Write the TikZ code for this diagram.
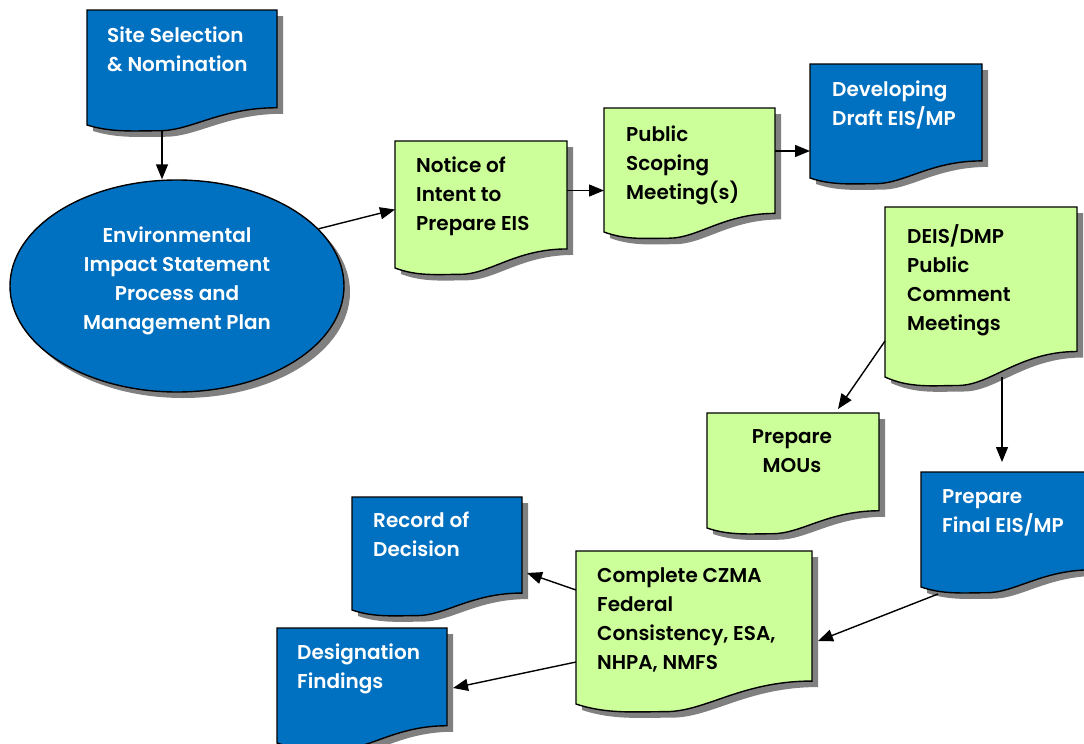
\documentclass[tikz,border=0pt]{standalone}
\usepackage{fontspec}
\setmainfont{Poppins}[BoldFont={* SemiBold}]
\usetikzlibrary{arrows.meta,calc,shapes.geometric}
\definecolor{docblue}{RGB}{0,112,192}
\definecolor{docgreen}{RGB}{204,255,153}
\definecolor{shadowgray}{RGB}{128,128,128}
% document shape: #1 x, #2 y (top), #3 width, #4 height at left edge, #5 style
\newcommand\docshape[5]{%
  \path[#5] ({#1},{#2}) -- ({#1+#3},{#2}) -- ({#1+#3},{#2+0.85*#4})
    .. controls ({#1+0.7*#3},{#2+0.85*#4}) and ({#1+0.55*#3},{#2+1.05*#4}) .. ({#1+0.38*#3},{#2+1.05*#4})
    .. controls ({#1+0.25*#3},{#2+1.05*#4}) and ({#1+0.13*#3},{#2+1.067*#4}) .. ({#1},{#2+#4}) -- cycle;}
% #1 name, #2 x, #3 y, #4 w, #5 h, #6 fill colour
\newcommand\docbox[6]{%
  \docshape{#2+6}{#3+6}{#4}{#5}{fill=shadowgray}
  \docshape{#2}{#3}{#4}{#5}{fill=#6,draw=black,line width=1.4pt}
  \node[area,minimum width=#4pt,minimum height=#5pt] (#1) at (#2,#3) {};}
\tikzset{
  area/.style={inner sep=0pt,outer sep=0pt,anchor=north west,draw=none},
  txt/.style={inner sep=0pt,anchor=north west,align=left,
    font=\fontsize{20}{29}\selectfont\bfseries,
    execute at begin node={\rule{0pt}{18pt}}},
  wtxt/.style={txt,text=white},
  btxt/.style={txt,text=black},
  arr/.style={draw=black,line width=1.4pt,-{Triangle[length=15pt,width=12pt]}}
}
\begin{document}
\begin{tikzpicture}[x=1pt,y=-1pt]
\useasboundingbox[fill=white] (0,0) rectangle (1084,744);
% boxes
\docbox{site}{87}{10}{190}{115}{docblue}
\node[ellipse,fill=shadowgray,minimum width=334pt,minimum height=212pt,inner sep=0pt] at (183,292) {};
\node[ellipse,fill=docblue,draw=black,line width=1.4pt,minimum width=334pt,minimum height=212pt,inner sep=0pt] (ell) at (177,286) {};
\docbox{notice}{395}{141}{172}{127}{docgreen}
\docbox{public}{604}{108}{171}{124}{docgreen}
\docbox{draft}{810}{64}{172}{114}{docblue}
\docbox{deis}{885}{207}{192}{170}{docgreen}
\docbox{mous}{707}{413}{172}{115}{docgreen}
\docbox{final}{921}{472}{172}{115}{docblue}
\docbox{czma}{576}{551}{236}{153}{docgreen}
\docbox{record}{352}{497}{170}{113}{docblue}
\docbox{desig}{277}{628}{170}{115}{docblue}
% texts
\node[wtxt] (site-t) at (107,27) {Site Selection\\\& Nomination};
\node[wtxt,anchor=north,align=center] (ell-t) at (177,227) {Environmental\\Impact Statement\\Process and\\Management Plan};
\node[btxt] (notice-t) at (416,157) {Notice of\\Intent to\\Prepare EIS};
\node[btxt] (public-t) at (626,126) {Public\\Scoping\\Meeting(s)};
\node[wtxt] (draft-t) at (832,81) {Developing\\Draft EIS/MP};
\node[btxt] (deis-t) at (907,224) {DEIS/DMP\\Public\\Comment\\Meetings};
\node[btxt,anchor=north,align=center] (mous-t) at (792,429) {Prepare\\MOUs};
\node[wtxt] (final-t) at (942,489) {Prepare\\Final EIS/MP};
\node[btxt] (czma-t) at (597,567) {Complete CZMA\\Federal\\Consistency, ESA,\\NHPA, NMFS};
\node[wtxt] (record-t) at (373,512) {Record of\\Decision};
\node[wtxt] (desig-t) at (297,644) {Designation\\Findings};
% connectors
\draw[arr] ($(site.south)+(-20,6)$) -- ($(ell.north)+(-15,0)$);
\draw[arr] (ell.22) -- ($(notice.west)+(0,5)$);
\draw[arr] ($(notice.east)+(0,-14)$) -- ($(notice.east -| public.west)+(0,-14)$);
\draw[arr] ($(public.east)+(0,-19)$) -- ($(public.east -| draft.west)+(0,-19)$);
\draw[arr] ($(deis.west)+(0,49)$) -- ($(mous.north)+(45,-4)$);
\draw[arr] ($(deis.south)+(21,0)$) -- ($(deis.south |- final.north)+(21,-10)$);
\draw[arr] ($(final.south west)+(17,7)$) -- ($(czma.east)+(6,13.5)$);
\draw[arr] ($(czma.west)+(0,-37.5)$) -- ($(record.east)+(5,19.5)$);
\draw[arr] ($(czma.west)+(0,34.5)$) -- ($(desig.east)+(6,2.5)$);
\end{tikzpicture}
\end{document}
